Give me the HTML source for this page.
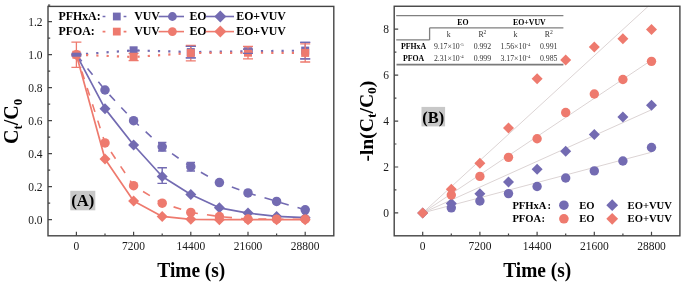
<!DOCTYPE html>
<html><head><meta charset="utf-8"><style>
html,body{margin:0;padding:0;background:#fff;}
body{width:685px;height:288px;overflow:hidden;}
svg{display:block;filter:blur(0.4px);font-family:"Liberation Serif", serif;}
</style></head><body>
<svg width="685" height="288" viewBox="0 0 685 288">
<rect width="685" height="288" fill="#fff"/>
<polyline points="76.40,54.70 133.60,50.30 190.80,52.10 248.00,51.25 305.20,50.60" fill="none" stroke="#736bb2" stroke-width="2.2" stroke-dasharray="2.2 8.1" stroke-dashoffset="0.70" stroke-linejoin="round"/>
<rect x="129.60" y="46.30" width="8" height="8" fill="#736bb2"/>
<rect x="186.80" y="48.10" width="8" height="8" fill="#736bb2"/>
<rect x="244.00" y="47.25" width="8" height="8" fill="#736bb2"/>
<rect x="301.20" y="46.60" width="8" height="8" fill="#736bb2"/>
<polyline points="76.40,54.70 105.00,90.01 133.60,120.70 162.20,146.77 190.80,166.73 219.40,182.57 248.00,192.97 276.60,201.38 305.20,209.80" fill="none" stroke="#736bb2" stroke-width="1.6" stroke-dasharray="8 9.2" stroke-dashoffset="16.70" stroke-linejoin="round"/>
<circle cx="105.00" cy="90.01" r="4.75" fill="#736bb2"/>
<circle cx="133.60" cy="120.70" r="4.75" fill="#736bb2"/>
<circle cx="162.20" cy="146.77" r="4.75" fill="#736bb2"/>
<circle cx="190.80" cy="166.73" r="4.75" fill="#736bb2"/>
<circle cx="219.40" cy="182.57" r="4.75" fill="#736bb2"/>
<circle cx="248.00" cy="192.97" r="4.75" fill="#736bb2"/>
<circle cx="276.60" cy="201.38" r="4.75" fill="#736bb2"/>
<circle cx="305.20" cy="209.80" r="4.75" fill="#736bb2"/>
<polyline points="76.40,54.70 105.00,108.65 133.60,144.95 162.20,176.47 190.80,194.45 219.40,207.82 248.00,213.10 276.60,216.40 305.20,217.72" fill="none" stroke="#736bb2" stroke-width="1.7" stroke-linejoin="round"/>
<path d="M105.00 103.15 L110.50 108.65 L105.00 114.15 L99.50 108.65 Z" fill="#736bb2"/>
<path d="M133.60 139.45 L139.10 144.95 L133.60 150.45 L128.10 144.95 Z" fill="#736bb2"/>
<path d="M162.20 170.97 L167.70 176.47 L162.20 181.97 L156.70 176.47 Z" fill="#736bb2"/>
<path d="M190.80 188.95 L196.30 194.45 L190.80 199.95 L185.30 194.45 Z" fill="#736bb2"/>
<path d="M219.40 202.32 L224.90 207.82 L219.40 213.32 L213.90 207.82 Z" fill="#736bb2"/>
<path d="M248.00 207.60 L253.50 213.10 L248.00 218.60 L242.50 213.10 Z" fill="#736bb2"/>
<path d="M276.60 210.90 L282.10 216.40 L276.60 221.90 L271.10 216.40 Z" fill="#736bb2"/>
<path d="M305.20 212.22 L310.70 217.72 L305.20 223.22 L299.70 217.72 Z" fill="#736bb2"/>
<path d="M162.20 167.72 V183.40 M157.45 167.72 H166.95 M157.45 183.40 H166.95" stroke="#736bb2" stroke-width="1.4" fill="none"/>
<path d="M162.20 142.57 V150.97 M158.00 142.57 H166.40 M158.00 150.97 H166.40" stroke="#736bb2" stroke-width="1.6" fill="none"/>
<path d="M190.80 162.53 V170.93 M186.60 162.53 H195.00 M186.60 170.93 H195.00" stroke="#736bb2" stroke-width="1.6" fill="none"/>
<path d="M190.80 46.30 V57.90 M185.80 46.30 H195.80 M185.80 57.90 H195.80" stroke="#736bb2" stroke-width="1.3" fill="none"/>
<path d="M248.00 49.20 V53.30 M243.00 49.20 H253.00 M243.00 53.30 H253.00" stroke="#736bb2" stroke-width="1.3" fill="none"/>
<path d="M305.20 42.30 V58.90 M300.20 42.30 H310.20 M300.20 58.90 H310.20" stroke="#736bb2" stroke-width="1.3" fill="none"/>
<path d="M76.40 42.10 V67.30 M71.40 42.10 H81.40 M71.40 67.30 H81.40" stroke="#ee7a6e" stroke-width="1.3" fill="none"/>
<path d="M133.60 53.40 V60.60 M128.60 53.40 H138.60 M128.60 60.60 H138.60" stroke="#ee7a6e" stroke-width="1.3" fill="none"/>
<path d="M190.80 45.30 V60.80 M185.80 45.30 H195.80 M185.80 60.80 H195.80" stroke="#ee7a6e" stroke-width="1.3" fill="none"/>
<path d="M248.00 46.50 V58.90 M243.00 46.50 H253.00 M243.00 58.90 H253.00" stroke="#ee7a6e" stroke-width="1.3" fill="none"/>
<path d="M305.20 43.80 V62.00 M300.20 43.80 H310.20 M300.20 62.00 H310.20" stroke="#ee7a6e" stroke-width="1.3" fill="none"/>
<polyline points="76.40,54.70 133.60,57.00 190.80,53.05 248.00,52.70 305.20,52.90" fill="none" stroke="#ee7a6e" stroke-width="2.2" stroke-dasharray="2.2 8.1" stroke-dashoffset="0.70" stroke-linejoin="round"/>
<rect x="72.40" y="50.70" width="8" height="8" fill="#ee7a6e"/>
<rect x="129.60" y="53.00" width="8" height="8" fill="#ee7a6e"/>
<rect x="186.80" y="49.05" width="8" height="8" fill="#ee7a6e"/>
<rect x="244.00" y="48.70" width="8" height="8" fill="#ee7a6e"/>
<rect x="301.20" y="48.90" width="8" height="8" fill="#ee7a6e"/>
<polyline points="76.40,54.70 105.00,142.97 133.60,185.71 162.20,203.20 190.80,212.44 219.40,216.56 248.00,219.04 276.60,219.20 305.20,219.20" fill="none" stroke="#ee7a6e" stroke-width="1.6" stroke-dasharray="8 9.2" stroke-dashoffset="16.70" stroke-linejoin="round"/>
<circle cx="76.40" cy="54.70" r="4.75" fill="#ee7a6e"/>
<circle cx="105.00" cy="142.97" r="4.75" fill="#ee7a6e"/>
<circle cx="133.60" cy="185.71" r="4.75" fill="#ee7a6e"/>
<circle cx="162.20" cy="203.20" r="4.75" fill="#ee7a6e"/>
<circle cx="190.80" cy="212.44" r="4.75" fill="#ee7a6e"/>
<circle cx="219.40" cy="216.56" r="4.75" fill="#ee7a6e"/>
<circle cx="248.00" cy="219.04" r="4.75" fill="#ee7a6e"/>
<circle cx="276.60" cy="219.20" r="4.75" fill="#ee7a6e"/>
<circle cx="305.20" cy="219.20" r="4.75" fill="#ee7a6e"/>
<polyline points="76.40,54.70 105.00,158.98 133.60,201.05 162.20,216.40 190.80,219.37 219.40,219.70 248.00,219.70 276.60,219.70 305.20,219.70" fill="none" stroke="#ee7a6e" stroke-width="1.7" stroke-linejoin="round"/>
<path d="M76.40 49.20 L81.90 54.70 L76.40 60.20 L70.90 54.70 Z" fill="#ee7a6e"/>
<path d="M105.00 153.48 L110.50 158.98 L105.00 164.48 L99.50 158.98 Z" fill="#ee7a6e"/>
<path d="M133.60 195.55 L139.10 201.05 L133.60 206.55 L128.10 201.05 Z" fill="#ee7a6e"/>
<path d="M162.20 210.90 L167.70 216.40 L162.20 221.90 L156.70 216.40 Z" fill="#ee7a6e"/>
<path d="M190.80 213.87 L196.30 219.37 L190.80 224.87 L185.30 219.37 Z" fill="#ee7a6e"/>
<path d="M219.40 214.20 L224.90 219.70 L219.40 225.20 L213.90 219.70 Z" fill="#ee7a6e"/>
<path d="M248.00 214.20 L253.50 219.70 L248.00 225.20 L242.50 219.70 Z" fill="#ee7a6e"/>
<path d="M276.60 214.20 L282.10 219.70 L276.60 225.20 L271.10 219.70 Z" fill="#ee7a6e"/>
<path d="M305.20 214.20 L310.70 219.70 L305.20 225.20 L299.70 219.70 Z" fill="#ee7a6e"/>
<path d="M185.80 46.30 H195.80 M185.80 57.90 H195.80" stroke="#736bb2" stroke-width="1.3"/>
<path d="M300.20 42.30 H310.20 M300.20 58.90 H310.20" stroke="#736bb2" stroke-width="1.3"/>
<rect x="71.40" y="52.70" width="10" height="4" fill="#736bb2"/>
<rect x="127.60" y="50.1" width="12" height="1.2" fill="#736bb2"/>
<path d="M243.00 49.2 H253.00 M243.00 53.3 H253.00" stroke="#736bb2" stroke-width="1.3"/>
<rect x="48" y="6.4" width="285.8" height="229.4" fill="none" stroke="#444444" stroke-width="1.4"/>
<path d="M76.40 235.8 V231.80 M105.00 235.8 V233.60 M133.60 235.8 V231.80 M162.20 235.8 V233.60 M190.80 235.8 V231.80 M219.40 235.8 V233.60 M248.00 235.8 V231.80 M276.60 235.8 V233.60 M305.20 235.8 V231.80 M48 219.70 H52.00 M48 203.20 H50.20 M48 186.70 H52.00 M48 170.20 H50.20 M48 153.70 H52.00 M48 137.20 H50.20 M48 120.70 H52.00 M48 104.20 H50.20 M48 87.70 H52.00 M48 71.20 H50.20 M48 54.70 H52.00 M48 38.20 H50.20 M48 21.70 H52.00 M48 5.20 H50.20" stroke="#444444" stroke-width="1.2" fill="none"/>
<text transform="translate(76.40 250.30) scale(1.0 1.1)" font-size="11.5" text-anchor="middle" font-weight="normal" fill="#1a1a1a">0</text>
<text transform="translate(133.60 250.30) scale(1.0 1.1)" font-size="11.5" text-anchor="middle" font-weight="normal" fill="#1a1a1a">7200</text>
<text transform="translate(190.80 250.30) scale(1.0 1.1)" font-size="11.5" text-anchor="middle" font-weight="normal" fill="#1a1a1a">14400</text>
<text transform="translate(248.00 250.30) scale(1.0 1.1)" font-size="11.5" text-anchor="middle" font-weight="normal" fill="#1a1a1a">21600</text>
<text transform="translate(305.20 250.30) scale(1.0 1.1)" font-size="11.5" text-anchor="middle" font-weight="normal" fill="#1a1a1a">28800</text>
<text transform="translate(42.60 223.70) scale(1.0 1.1)" font-size="11.5" text-anchor="end" font-weight="normal" fill="#1a1a1a">0.0</text>
<text transform="translate(42.60 190.70) scale(1.0 1.1)" font-size="11.5" text-anchor="end" font-weight="normal" fill="#1a1a1a">0.2</text>
<text transform="translate(42.60 157.70) scale(1.0 1.1)" font-size="11.5" text-anchor="end" font-weight="normal" fill="#1a1a1a">0.4</text>
<text transform="translate(42.60 124.70) scale(1.0 1.1)" font-size="11.5" text-anchor="end" font-weight="normal" fill="#1a1a1a">0.6</text>
<text transform="translate(42.60 91.70) scale(1.0 1.1)" font-size="11.5" text-anchor="end" font-weight="normal" fill="#1a1a1a">0.8</text>
<text transform="translate(42.60 58.70) scale(1.0 1.1)" font-size="11.5" text-anchor="end" font-weight="normal" fill="#1a1a1a">1.0</text>
<text transform="translate(42.60 25.70) scale(1.0 1.1)" font-size="11.5" text-anchor="end" font-weight="normal" fill="#1a1a1a">1.2</text>
<text transform="translate(191.30 276.70) scale(0.955 1.0)" font-size="20.3" text-anchor="middle" font-weight="bold">Time (s)</text>
<text transform="translate(17.9 144.0) rotate(-90) scale(0.985 1)" font-size="20.3" font-weight="bold">C<tspan font-size="13" dy="4.2">t</tspan><tspan dy="-4.2">/C</tspan><tspan font-size="13" dy="4.2">0</tspan></text>
<rect x="70.3" y="190.8" width="25" height="19.5" fill="#c8c8c8"/>
<text x="82.80" y="206.30" font-size="16.6" text-anchor="middle" font-weight="bold">(A)</text>
<text transform="translate(58.40 20.20) scale(1.0 1.05)" font-size="11.9" text-anchor="start" font-weight="bold">PFHxA:</text>
<path d="M102.6 16.5 H105.4 M123.6 16.5 H126.4" stroke="#736bb2" stroke-width="1.7"/>
<rect x="112.90" y="12.60" width="7.8" height="7.8" fill="#736bb2"/>
<text transform="translate(134.20 20.20) scale(1.0 1.05)" font-size="11.9" text-anchor="start" font-weight="bold">VUV</text>
<path d="M158.6 16.5 H184" stroke="#736bb2" stroke-width="1.6"/>
<circle cx="172.40" cy="16.50" r="4.4" fill="#736bb2"/>
<text transform="translate(189.40 20.20) scale(1.0 1.05)" font-size="11.9" text-anchor="start" font-weight="bold">EO</text>
<path d="M205.6 16.5 H234" stroke="#736bb2" stroke-width="1.6"/>
<path d="M220.30 10.50 L226.30 16.50 L220.30 22.50 L214.30 16.50 Z" fill="#736bb2"/>
<text transform="translate(236.20 20.20) scale(1.0 1.05)" font-size="11.9" text-anchor="start" font-weight="bold">EO+VUV</text>
<text transform="translate(58.40 35.30) scale(1.0 1.05)" font-size="11.9" text-anchor="start" font-weight="bold">PFOA:</text>
<path d="M102.6 31.6 H105.4 M123.6 31.6 H126.4" stroke="#ee7a6e" stroke-width="1.7"/>
<rect x="112.90" y="27.70" width="7.8" height="7.8" fill="#ee7a6e"/>
<text transform="translate(134.20 35.30) scale(1.0 1.05)" font-size="11.9" text-anchor="start" font-weight="bold">VUV</text>
<path d="M158.6 31.6 H184" stroke="#ee7a6e" stroke-width="1.6"/>
<circle cx="172.40" cy="31.60" r="4.4" fill="#ee7a6e"/>
<text transform="translate(189.40 35.30) scale(1.0 1.05)" font-size="11.9" text-anchor="start" font-weight="bold">EO</text>
<path d="M205.6 31.6 H234" stroke="#ee7a6e" stroke-width="1.6"/>
<path d="M220.30 25.60 L226.30 31.60 L220.30 37.60 L214.30 31.60 Z" fill="#ee7a6e"/>
<text transform="translate(236.20 35.30) scale(1.0 1.05)" font-size="11.9" text-anchor="start" font-weight="bold">EO+VUV</text>
<line x1="422.70" y1="212.90" x2="651.50" y2="152.26" stroke="#dcd4d4" stroke-width="1"/>
<line x1="422.70" y1="212.90" x2="651.50" y2="109.75" stroke="#dcd4d4" stroke-width="1"/>
<line x1="422.70" y1="212.90" x2="651.50" y2="60.15" stroke="#dcd4d4" stroke-width="1"/>
<line x1="422.70" y1="212.90" x2="648.25" y2="6.26" stroke="#dcd4d4" stroke-width="1"/>
<circle cx="451.30" cy="207.85" r="4.7" fill="#736bb2"/>
<circle cx="479.90" cy="200.96" r="4.7" fill="#736bb2"/>
<circle cx="508.50" cy="193.61" r="4.7" fill="#736bb2"/>
<circle cx="537.10" cy="186.50" r="4.7" fill="#736bb2"/>
<circle cx="565.70" cy="178.00" r="4.7" fill="#736bb2"/>
<circle cx="594.30" cy="170.88" r="4.7" fill="#736bb2"/>
<circle cx="622.90" cy="161.01" r="4.7" fill="#736bb2"/>
<circle cx="651.50" cy="147.46" r="4.7" fill="#736bb2"/>
<path d="M422.70 207.40 L428.20 212.90 L422.70 218.40 L417.20 212.90 Z" fill="#736bb2"/>
<path d="M451.30 197.99 L456.80 203.49 L451.30 208.99 L445.80 203.49 Z" fill="#736bb2"/>
<path d="M479.90 188.34 L485.40 193.84 L479.90 199.34 L474.40 193.84 Z" fill="#736bb2"/>
<path d="M508.50 176.40 L514.00 181.90 L508.50 187.40 L503.00 181.90 Z" fill="#736bb2"/>
<path d="M537.10 163.78 L542.60 169.28 L537.10 174.78 L531.60 169.28 Z" fill="#736bb2"/>
<path d="M565.70 145.87 L571.20 151.37 L565.70 156.87 L560.20 151.37 Z" fill="#736bb2"/>
<path d="M594.30 128.88 L599.80 134.38 L594.30 139.88 L588.80 134.38 Z" fill="#736bb2"/>
<path d="M622.90 111.43 L628.40 116.93 L622.90 122.43 L617.40 116.93 Z" fill="#736bb2"/>
<path d="M651.50 99.72 L657.00 105.22 L651.50 110.72 L646.00 105.22 Z" fill="#736bb2"/>
<circle cx="451.30" cy="194.99" r="4.7" fill="#ee7a6e"/>
<circle cx="479.90" cy="176.39" r="4.7" fill="#ee7a6e"/>
<circle cx="508.50" cy="157.34" r="4.7" fill="#ee7a6e"/>
<circle cx="537.10" cy="138.74" r="4.7" fill="#ee7a6e"/>
<circle cx="565.70" cy="112.56" r="4.7" fill="#ee7a6e"/>
<circle cx="594.30" cy="93.97" r="4.7" fill="#ee7a6e"/>
<circle cx="622.90" cy="79.50" r="4.7" fill="#ee7a6e"/>
<circle cx="651.50" cy="61.36" r="4.7" fill="#ee7a6e"/>
<path d="M422.70 207.40 L428.20 212.90 L422.70 218.40 L417.20 212.90 Z" fill="#ee7a6e"/>
<path d="M451.30 183.75 L456.80 189.25 L451.30 194.75 L445.80 189.25 Z" fill="#ee7a6e"/>
<path d="M479.90 157.81 L485.40 163.31 L479.90 168.81 L474.40 163.31 Z" fill="#ee7a6e"/>
<path d="M508.50 122.45 L514.00 127.95 L508.50 133.45 L503.00 127.95 Z" fill="#ee7a6e"/>
<path d="M537.10 73.31 L542.60 78.81 L537.10 84.31 L531.60 78.81 Z" fill="#ee7a6e"/>
<path d="M565.70 54.49 L571.20 59.99 L565.70 65.49 L560.20 59.99 Z" fill="#ee7a6e"/>
<path d="M594.30 41.40 L599.80 46.90 L594.30 52.40 L588.80 46.90 Z" fill="#ee7a6e"/>
<path d="M622.90 33.36 L628.40 38.86 L622.90 44.36 L617.40 38.86 Z" fill="#ee7a6e"/>
<path d="M651.50 23.95 L657.00 29.45 L651.50 34.95 L646.00 29.45 Z" fill="#ee7a6e"/>
<rect x="394.2" y="6.25" width="285.7" height="229.55" fill="none" stroke="#444444" stroke-width="1.4"/>
<path d="M422.70 235.8 V231.80 M451.30 235.8 V233.60 M479.90 235.8 V231.80 M508.50 235.8 V233.60 M537.10 235.8 V231.80 M565.70 235.8 V233.60 M594.30 235.8 V231.80 M622.90 235.8 V233.60 M651.50 235.8 V231.80 M394.2 212.90 H398.20 M394.2 189.94 H396.40 M394.2 166.98 H398.20 M394.2 144.02 H396.40 M394.2 121.06 H398.20 M394.2 98.10 H396.40 M394.2 75.14 H398.20 M394.2 52.18 H396.40 M394.2 29.22 H398.20" stroke="#444444" stroke-width="1.2" fill="none"/>
<text transform="translate(422.70 250.30) scale(1.0 1.1)" font-size="11.5" text-anchor="middle" font-weight="normal" fill="#1a1a1a">0</text>
<text transform="translate(479.90 250.30) scale(1.0 1.1)" font-size="11.5" text-anchor="middle" font-weight="normal" fill="#1a1a1a">7200</text>
<text transform="translate(537.10 250.30) scale(1.0 1.1)" font-size="11.5" text-anchor="middle" font-weight="normal" fill="#1a1a1a">14400</text>
<text transform="translate(594.30 250.30) scale(1.0 1.1)" font-size="11.5" text-anchor="middle" font-weight="normal" fill="#1a1a1a">21600</text>
<text transform="translate(651.50 250.30) scale(1.0 1.1)" font-size="11.5" text-anchor="middle" font-weight="normal" fill="#1a1a1a">28800</text>
<text transform="translate(388.90 216.90) scale(1.0 1.1)" font-size="11.5" text-anchor="end" font-weight="normal" fill="#1a1a1a">0</text>
<text transform="translate(388.90 170.98) scale(1.0 1.1)" font-size="11.5" text-anchor="end" font-weight="normal" fill="#1a1a1a">2</text>
<text transform="translate(388.90 125.06) scale(1.0 1.1)" font-size="11.5" text-anchor="end" font-weight="normal" fill="#1a1a1a">4</text>
<text transform="translate(388.90 79.14) scale(1.0 1.1)" font-size="11.5" text-anchor="end" font-weight="normal" fill="#1a1a1a">6</text>
<text transform="translate(388.90 33.22) scale(1.0 1.1)" font-size="11.5" text-anchor="end" font-weight="normal" fill="#1a1a1a">8</text>
<text transform="translate(537.20 276.70) scale(0.955 1.0)" font-size="20.3" text-anchor="middle" font-weight="bold">Time (s)</text>
<text transform="translate(372.7 161.6) rotate(-90)" font-size="19.6" font-weight="bold">-ln(C<tspan font-size="13.5" dy="3.5">t</tspan><tspan dy="-3.5">/C</tspan><tspan font-size="13.5" dy="3.5">0</tspan><tspan dy="-3.5">)</tspan></text>
<rect x="421.5" y="106.9" width="23.6" height="19.5" fill="#c8c8c8"/>
<text x="433.30" y="122.50" font-size="16.4" text-anchor="middle" font-weight="bold">(B)</text>
<text transform="translate(512.40 208.80) scale(1.0 1.05)" font-size="10.6" text-anchor="start" font-weight="bold">PFHxA</text>
<text transform="translate(547.60 208.80) scale(1.0 1.05)" font-size="10.6" text-anchor="start" font-weight="bold">:</text>
<circle cx="563.90" cy="205.20" r="4.8" fill="#736bb2"/>
<text transform="translate(579.20 208.80) scale(1.0 1.05)" font-size="10.6" text-anchor="start" font-weight="bold">EO</text>
<path d="M612.20 199.30 L618.10 205.20 L612.20 211.10 L606.30 205.20 Z" fill="#736bb2"/>
<text transform="translate(627.60 208.80) scale(1.0 1.05)" font-size="10.6" text-anchor="start" font-weight="bold">EO+VUV</text>
<text transform="translate(512.40 222.40) scale(1.0 1.05)" font-size="10.6" text-anchor="start" font-weight="bold">PFOA</text>
<text transform="translate(541.40 222.40) scale(1.0 1.05)" font-size="10.6" text-anchor="start" font-weight="bold">:</text>
<circle cx="563.90" cy="218.80" r="4.8" fill="#ee7a6e"/>
<text transform="translate(579.20 222.40) scale(1.0 1.05)" font-size="10.6" text-anchor="start" font-weight="bold">EO</text>
<path d="M612.20 212.90 L618.10 218.80 L612.20 224.70 L606.30 218.80 Z" fill="#ee7a6e"/>
<text transform="translate(627.60 222.40) scale(1.0 1.05)" font-size="10.6" text-anchor="start" font-weight="bold">EO+VUV</text>
<path d="M396.2 15.6 H563.4 M429.6 27.8 H563.4 M429.6 27.8 V39.9 M396.2 39.9 H429.6" stroke="#808080" stroke-width="1.3" fill="none"/>
<path d="M396.5 64.7 H563.4" stroke="#7a7a7a" stroke-width="1.7" fill="none"/>
<text x="463.00" y="24.60" font-size="7.8" text-anchor="middle" font-weight="bold">EO</text>
<text x="529.40" y="24.60" font-size="7.8" text-anchor="middle" font-weight="bold">EO+VUV</text>
<text x="448.80" y="37.10" font-size="7.8" text-anchor="middle" font-weight="normal" fill="#333">k</text>
<text x="482.40" y="37.10" font-size="7.8" text-anchor="middle" font-weight="normal" fill="#333">R<tspan font-size="5.6" dy="-2.8">2</tspan></text>
<text x="515.40" y="37.10" font-size="7.8" text-anchor="middle" font-weight="normal" fill="#333">k</text>
<text x="548.70" y="37.10" font-size="7.8" text-anchor="middle" font-weight="normal" fill="#333">R<tspan font-size="5.6" dy="-2.8">2</tspan></text>
<text x="413.60" y="49.30" font-size="7.8" text-anchor="middle" font-weight="bold">PFHxA</text>
<text x="413.60" y="60.80" font-size="7.8" text-anchor="middle" font-weight="bold">PFOA</text>
<text x="448.80" y="49.30" font-size="7.8" text-anchor="middle" font-weight="normal" fill="#333">9.17×10<tspan font-size="4.8" dy="-3">-5</tspan></text>
<text x="482.40" y="49.30" font-size="7.8" text-anchor="middle" font-weight="normal" fill="#333">0.992</text>
<text x="515.40" y="49.30" font-size="7.8" text-anchor="middle" font-weight="normal" fill="#333">1.56×10<tspan font-size="4.8" dy="-3">-4</tspan></text>
<text x="548.70" y="49.30" font-size="7.8" text-anchor="middle" font-weight="normal" fill="#333">0.991</text>
<text x="448.80" y="60.80" font-size="7.8" text-anchor="middle" font-weight="normal" fill="#333">2.31×10<tspan font-size="4.8" dy="-3">-4</tspan></text>
<text x="482.40" y="60.80" font-size="7.8" text-anchor="middle" font-weight="normal" fill="#333">0.999</text>
<text x="515.40" y="60.80" font-size="7.8" text-anchor="middle" font-weight="normal" fill="#333">3.17×10<tspan font-size="4.8" dy="-3">-4</tspan></text>
<text x="548.70" y="60.80" font-size="7.8" text-anchor="middle" font-weight="normal" fill="#333">0.985</text>
</svg>
</body></html>
